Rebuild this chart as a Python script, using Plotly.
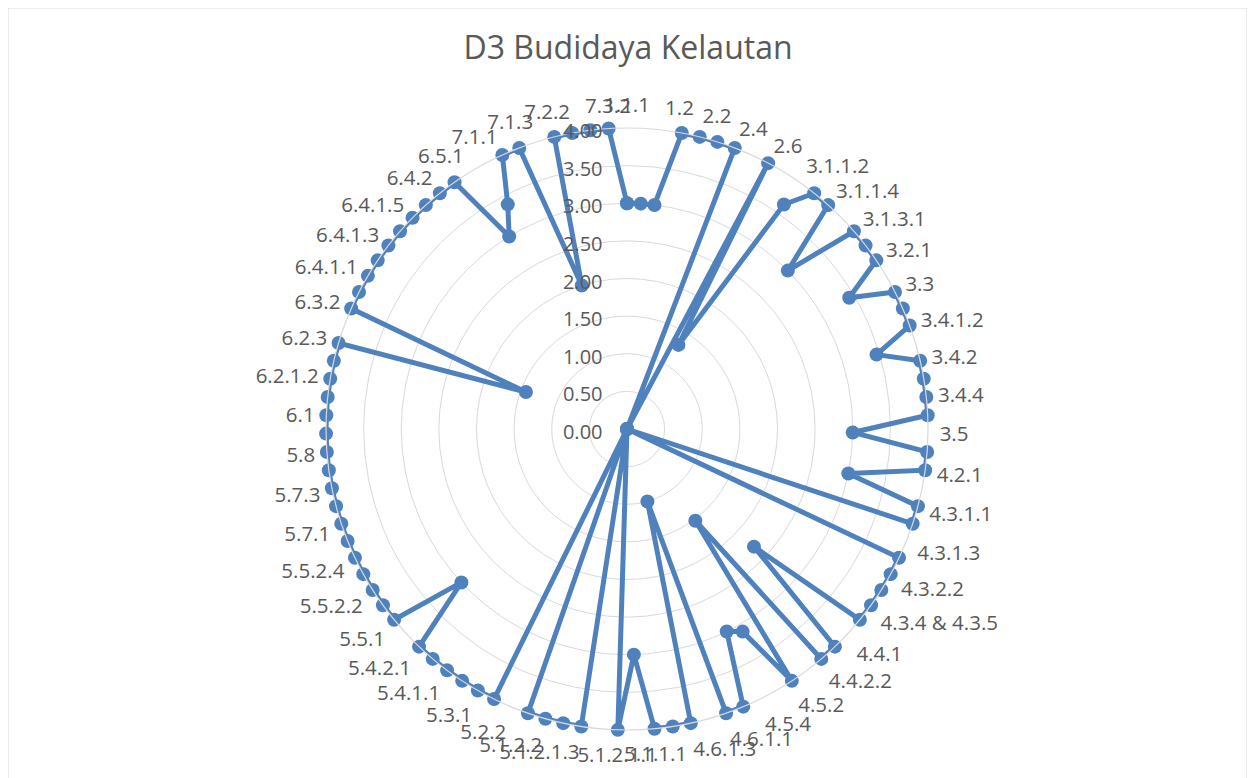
import plotly.graph_objects as go

# Categories clockwise from the top (every other name is shown as a tick label)
categories = [
    "1.1.1", "1.1.2", "1.2", "2.1", "2.2", "2.3", "2.4", "2.5", "2.6", "3.1.1.1",
    "3.1.1.2", "3.1.1.3", "3.1.1.4", "3.1.2", "3.1.3.1", "3.1.3.2", "3.2.1", "3.2.2", "3.3", "3.4.1.1",
    "3.4.1.2", "3.4.1.3", "3.4.2", "3.4.3", "3.4.4", "3.4.5", "3.5", "4.1", "4.2.1", "4.2.2",
    "4.3.1.1", "4.3.1.2", "4.3.1.3", "4.3.2.1", "4.3.2.2", "4.3.3", "4.3.4 & 4.3.5", "4.3.6", "4.4.1", "4.4.2.1",
    "4.4.2.2", "4.5.1", "4.5.2", "4.5.3", "4.5.4", "4.5.5", "4.6.1.1", "4.6.1.2", "4.6.1.3", "4.6.2",
    "5.1.1.1", "5.1.1.2", "5.1.2.1.1", "5.1.2.1.2", "5.1.2.1.3", "5.1.2.1.4", "5.1.2.2", "5.2.1", "5.2.2", "5.2.3",
    "5.3.1", "5.3.2", "5.4.1.1", "5.4.1.2", "5.4.2.1", "5.4.2.2", "5.5.1", "5.5.2.1", "5.5.2.2", "5.5.2.3",
    "5.5.2.4", "5.6", "5.7.1", "5.7.2", "5.7.3", "5.7.4", "5.8", "5.9", "6.1", "6.2.1.1",
    "6.2.1.2", "6.2.2", "6.2.3", "6.3.1", "6.3.2", "6.3.3", "6.4.1.1", "6.4.1.2", "6.4.1.3", "6.4.1.4",
    "6.4.1.5", "6.4.1.6", "6.4.2", "6.4.3", "6.5.1", "6.5.2", "7.1.1", "7.1.2", "7.1.3", "7.2.1",
    "7.2.2", "7.3.1", "7.3.2",
]

values = [
    3.0, 3.0, 3.0, 4, 4, 4, 4, 0, 4, 1.31,
    3.64, 4, 4, 3.0, 4, 4, 4, 3.43, 4, 4,
    4, 3.46, 4, 4, 4, 4, 3.0, 4, 4, 3.0,
    4, 4, 0, 4, 4, 4, 4, 4, 2.3, 4,
    4, 1.52, 4, 3.1, 3.0, 4, 4, 1.0, 4, 4,
    4, 3.0, 4, 0, 4, 4, 4, 4, 0, 4,
    4, 4, 4, 4, 4, 3.0, 4, 4, 4, 4,
    4, 4, 4, 4, 4, 4, 4, 4, 4, 4,
    4, 4, 4, 1.43, 4, 4, 4, 4, 4, 4,
    4, 4, 4, 4, 3.0, 3.38, 4, 4, 2.0, 4,
    4, 4, 4,
]

tick_labels = categories[::2]
radial_ticks = [0, 0.5, 1.0, 1.5, 2.0, 2.5, 3.0, 3.5, 4.0]

title_text = "D3 Budidaya Kelautan"

blue = "#4F81BD"
grey_text = "#595959"
grid = "#D9D9D9"

fig = go.Figure()
fig.add_trace(go.Scatterpolar(
    r=values + values[:1],
    theta=categories + categories[:1],
    mode="lines+markers",
    line=dict(color=blue, width=5),
    marker=dict(color=blue, size=14),
    showlegend=False,
    hoverinfo="skip",
))

# page body has an 8 px margin, so figure coordinates are offset by 8 px
W, H = 1255, 778
cx, cy, R = 619, 421, 301

fig.update_layout(
    width=W, height=H,
    margin=dict(l=0, r=0, t=0, b=0),
    paper_bgcolor="white",
    plot_bgcolor="white",
    font=dict(family="Open Sans", color=grey_text),
    title=dict(text=title_text, x=(cx + 1) / W, xanchor="center", y=1 - 40 / H, yanchor="middle",
               font=dict(size=32, color=grey_text, family="Open Sans")),
    polar=dict(
        domain=dict(x=[(cx - R) / W, (cx + R) / W], y=[(H - cy - R) / H, (H - cy + R) / H]),
        bgcolor="white",
        radialaxis=dict(
            range=[0, 4], tickvals=radial_ticks, tickformat=".2f",
            angle=90, side="counterclockwise", showline=False,
            ticks="outside", ticklen=6, tickcolor="rgba(0,0,0,0)",
            gridcolor=grid, gridwidth=1.2,
            tickfont=dict(size=20, color=grey_text),
        ),
        angularaxis=dict(
            type="category", categoryarray=categories,
            rotation=90, direction="clockwise",
            tickmode="array", tickvals=tick_labels, ticktext=tick_labels,
            showgrid=False, showline=True, linecolor=grid, linewidth=1.2,
            ticks="outside", ticklen=7, tickcolor="rgba(0,0,0,0)",
            tickfont=dict(size=20.5, color=grey_text),
        ),
    ),
    shapes=[dict(type="rect", xref="paper", yref="paper",
                 x0=0, x1=1239 / W, y0=-0.05, y1=1,
                 line=dict(color=grid, width=1), fillcolor="rgba(0,0,0,0)", layer="below")],
)

fig.write_html("out.html")
